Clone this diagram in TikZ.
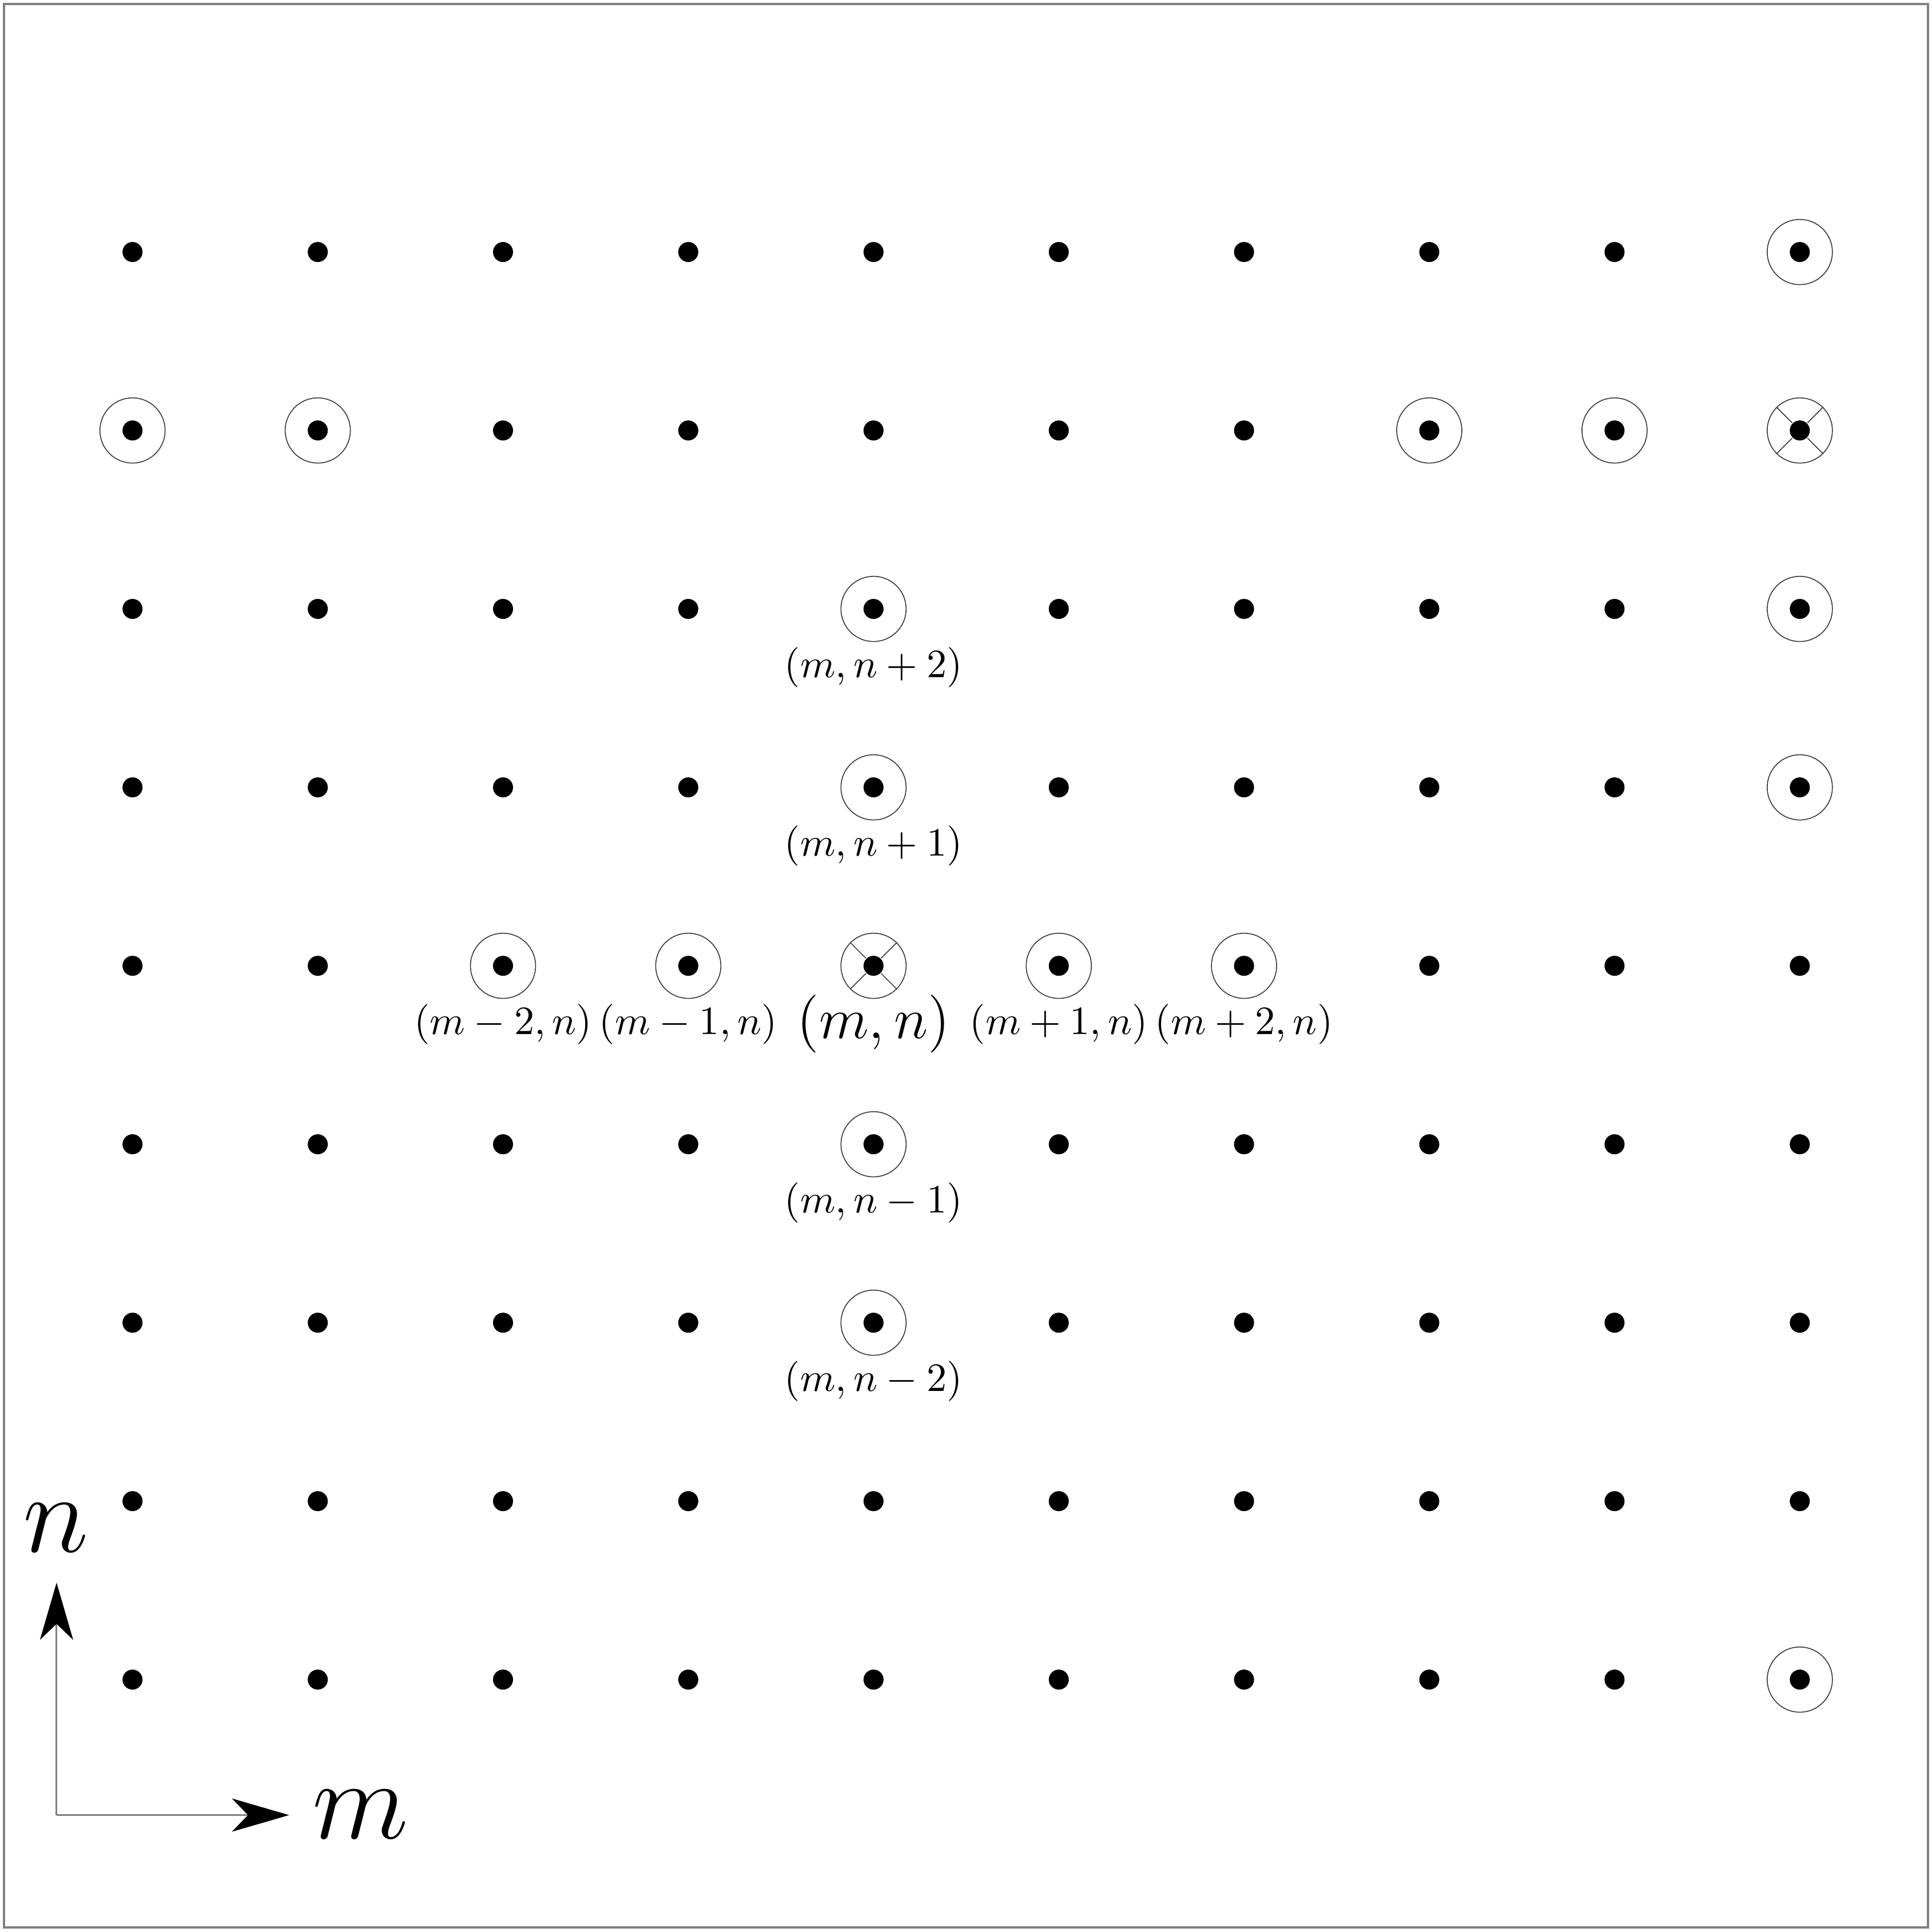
\documentclass[tikz,border=0pt]{standalone}
\usepackage{amsmath}
\usepackage{graphicx}
\usepackage{xcolor}
\usepackage{tikz}
\usetikzlibrary{arrows.meta,positioning,calc}

\begin{document}
\begin{tikzpicture}[
dot/.style={circle,fill=black,inner sep=0pt,minimum size=1.75mm},
ring/.style={circle,draw=black!80,line width=0.22pt,inner sep=0pt,minimum size=5.7mm},
lbl/.style={inner sep=0pt,font=\normalsize},
big/.style={inner sep=0pt,font=\Huge},
axis/.style={draw=gray,line width=0.45pt,-{Stealth[black,length=5mm,width=2.9mm,inset=1.4mm]}}
]
\useasboundingbox (0,0) rectangle (16.89,16.89);
\draw[gray,line width=0.5pt] (0.035,0.04) rectangle (16.855,16.855);

% grid of sites
\foreach \i in {0,...,9}
  \foreach \j in {0,...,8}
    \node[dot] (p-\i-\j) at (1.1585+1.6195*\i,2.2065+1.56*\j) {};

% marked sites
\foreach \i/\j in {9/8,0/7,1/7,7/7,8/7,9/7,4/6,9/6,4/5,9/5,2/4,3/4,4/4,5/4,6/4,4/3,4/2,9/0}
  \node[ring] (r-\i-\j) at (p-\i-\j) {};
\foreach \i/\j in {4/4,9/7}
  \foreach \a in {45,135,225,315}
    \draw[black!80,line width=0.22pt] (p-\i-\j.\a)--(r-\i-\j.\a);

% labels
\node[lbl,yshift=-5.1mm] (l-2-4) at (p-2-4) {$(m-2,n)$};
\node[lbl,yshift=-5.1mm] (l-3-4) at (p-3-4) {$(m-1,n)$};
\node[lbl,yshift=-5.1mm,font=\Large] (l-4-4) at (p-4-4) {$(m,n)$};
\node[lbl,yshift=-5.1mm] (l-5-4) at (p-5-4) {$(m+1,n)$};
\node[lbl,yshift=-5.1mm] (l-6-4) at (p-6-4) {$(m+2,n)$};
\node[lbl,yshift=-5.1mm] (l-4-6) at (p-4-6) {$(m,n+2)$};
\node[lbl,yshift=-5.1mm] (l-4-5) at (p-4-5) {$(m,n+1)$};
\node[lbl,yshift=-5.1mm] (l-4-3) at (p-4-3) {$(m,n-1)$};
\node[lbl,yshift=-5.1mm] (l-4-2) at (p-4-2) {$(m,n-2)$};

% axes
\coordinate (o) at (0.4945,1.022);
\coordinate (ntip) at (0.4945,3.054);
\coordinate (mtip) at (2.528,1.022);
\draw[axis] (o)--(ntip);
\draw[axis] (o)--(mtip);
\node[big,anchor=base] (nlab) at (0.49,3.32) {\scalebox{1.12}{$n$}};
\node[big,anchor=base] (mlab) at (3.15,0.816) {\scalebox{1.12}{$m$}};
\end{tikzpicture}
\end{document}
